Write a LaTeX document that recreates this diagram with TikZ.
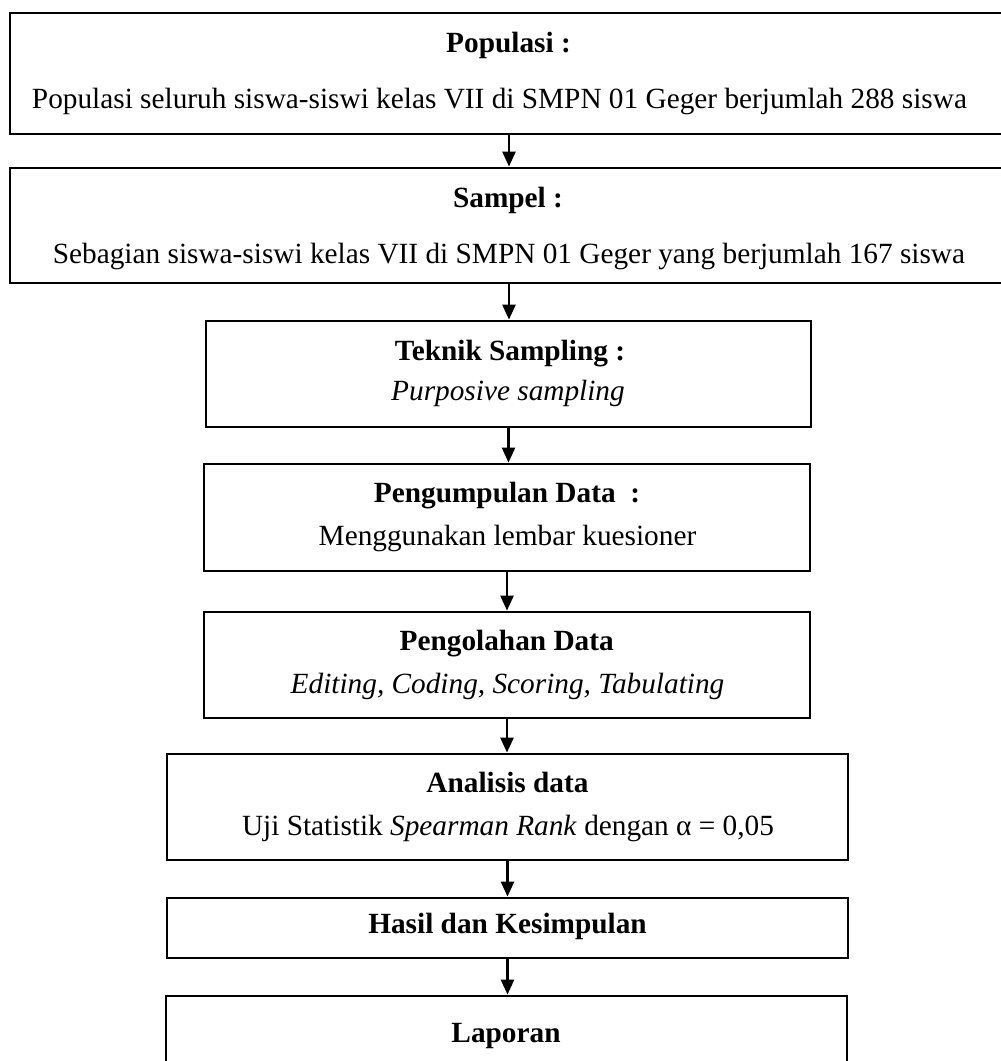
\documentclass[tikz,border=0pt]{standalone}
\usepackage{fontspec}
\setmainfont{Liberation Serif}
\usetikzlibrary{arrows.meta}
\begin{document}
\begin{tikzpicture}[x=1pt,y=-1pt,
  boxnode/.style={draw=black,line width=2.8pt,rectangle,inner sep=0pt,anchor=center},
  txt/.style={anchor=base,inner sep=0pt,font=\fontsize{29.3}{33}\selectfont},
  arr/.style={line width=2.6pt,-{Triangle[width=13pt,length=15pt]}}]
\clip (0,0) rectangle (1001,1061);
\fill[white] (0,0) rectangle (1001,1061);
% boxes
\node[boxnode,minimum width=998pt,minimum height=121pt] (b1) at (509,73.5) {};
\node[boxnode,minimum width=998pt,minimum height=115pt] (b2) at (509,225.5) {};
\node[boxnode,minimum width=605pt,minimum height=106pt] (b3) at (508.5,374) {};
\node[boxnode,minimum width=606pt,minimum height=107pt] (b4) at (507,517.5) {};
\node[boxnode,minimum width=606pt,minimum height=106pt] (b5) at (507,665) {};
\node[boxnode,minimum width=681pt,minimum height=106pt] (b6) at (507.5,807) {};
\node[boxnode,minimum width=681pt,minimum height=60pt] (b7) at (507.5,928) {};
\node[boxnode,minimum width=681pt,minimum height=104pt] (b8) at (506.5,1048) {};
% texts
\node[txt] (t1a) at (508.5,52) {\textbf{Populasi :}};
\node[txt] (t1b) at (499.5,108) {Populasi seluruh siswa-siswi kelas VII di SMPN 01 Geger berjumlah 288 siswa};
\node[txt] (t2a) at (508,207) {\textbf{Sampel :}};
\node[txt] (t2b) at (509,263) {Sebagian siswa-siswi kelas VII di SMPN 01 Geger yang berjumlah 167 siswa};
\node[txt] (t3a) at (510,360) {\textbf{Teknik Sampling :}};
\node[txt] (t3b) at (508,400) {\textit{Purposive sampling}};
\node[txt] (t4a) at (507,502) {\textbf{Pengumpulan Data\ \ :}};
\node[txt] (t4b) at (507.5,545) {Menggunakan lembar kuesioner};
\node[txt] (t5a) at (506.7,650) {\textbf{Pengolahan Data}};
\node[txt] (t5b) at (507.5,693) {\textit{Editing, Coding, Scoring, Tabulating}};
\node[txt] (t6a) at (507.5,792) {\textbf{Analisis data}};
\node[txt] (t6b) at (508,835) {Uji Statistik \textit{Spearman Rank} dengan α = 0,05};
\node[txt] (t7) at (507.5,933) {\textbf{Hasil dan Kesimpulan}};
\node[txt] (t8) at (506,1042) {\textbf{Laporan}};
% arrows
\draw[arr] (b1.south) -- (b1.south |- b2.north);
\draw[arr] (b2.south) -- (b2.south |- b3.north);
\draw[arr] (b3.south) -- (b3.south |- b4.north);
\draw[arr] (b4.south) -- (b4.south |- b5.north);
\draw[arr] (b5.south) -- (b5.south |- b6.north);
\draw[arr] (b6.south) -- (b6.south |- b7.north);
\draw[arr] (b7.south) -- (b7.south |- b8.north);
\end{tikzpicture}
\end{document}
